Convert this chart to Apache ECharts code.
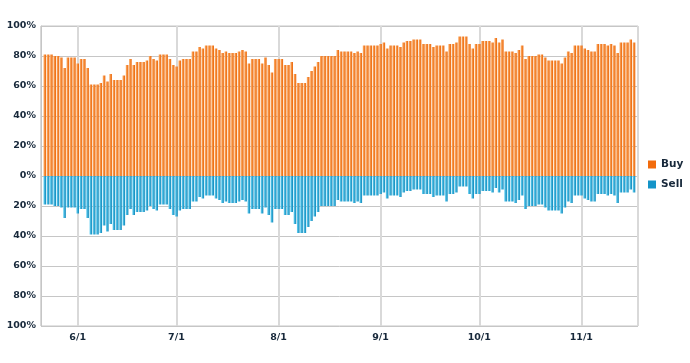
<!DOCTYPE html>
<html>
<head>
<meta charset="utf-8">
<script src="https://cdn.jsdelivr.net/npm/echarts@6/dist/echarts.min.js"></script>
<style>
html,body{margin:0;padding:0;background:#fff;}
#chart{width:690px;height:363px;}
</style>
</head>
<body>
<div id="chart"></div>
<script>
// first trading-day category and daily categories
const startDay = Date.UTC(2010, 4, 22);
const DAY = 86400000;

const buy = [
  81,81,81,80,80,79,72,79,79,79,
  75,78,78,72,61,61,61,62,67,63,
  68,64,64,64,67,74,78,74,76,76,
  76,77,80,78,77,81,81,81,78,74,
  73,77,78,78,78,83,83,86,85,87,
  87,87,85,84,82,83,82,82,82,83,
  84,83,75,78,78,78,75,79,74,69,
  78,78,78,74,74,76,68,62,62,62,
  66,70,73,76,80,80,80,80,80,84,
  83,83,83,83,82,83,82,87,87,87,
  87,87,88,89,85,87,87,87,86,89,
  90,90,91,91,91,88,88,88,86,87,
  87,87,83,88,88,89,93,93,93,88,
  85,88,88,90,90,90,89,92,89,91,
  83,83,83,82,84,87,78,80,80,80,
  81,81,79,77,77,77,77,75,79,83,
  82,87,87,87,85,84,83,83,88,88,
  88,87,88,87,82,89,89,89,91,89
];
const sell = [
  19,19,19,20,20,21,28,21,21,21,
  25,22,22,28,39,39,39,38,33,37,
  32,36,36,36,33,26,22,26,24,24,
  24,23,20,22,23,19,19,19,22,26,
  27,23,22,22,22,17,17,14,15,13,
  13,13,15,16,18,17,18,18,18,17,
  16,17,25,22,22,22,25,21,26,31,
  22,22,22,26,26,24,32,38,38,38,
  34,30,27,24,20,20,20,20,20,16,
  17,17,17,17,18,17,18,13,13,13,
  13,13,12,11,15,13,13,13,14,11,
  10,10,9,9,9,12,12,12,14,13,
  13,13,17,12,12,11,7,7,7,12,
  15,12,12,10,10,10,11,8,11,9,
  17,17,17,18,16,13,22,20,20,20,
  19,19,21,23,23,23,23,25,21,17,
  18,13,13,13,15,16,17,17,12,12,
  12,13,12,13,18,11,11,11,9,11
];
const seriesNames = ['Buy', 'Sell'];
const yTicks = [-100, -80, -60, -40, -20, 0, 20, 40, 60, 80, 100];

const days = buy.map((_, i) => startDay + i * DAY);

const chart = echarts.init(document.getElementById('chart'));
const FONT = '"DejaVu Sans", Verdana, sans-serif';
const TXT = '#17283a';

chart.setOption({
  animation: false,
  useUTC: true,
  grid: {
    left: 41, right: 52, top: 26, bottom: 37,
    show: true, borderColor: '#c6c6c6', borderWidth: 1, backgroundColor: 'transparent'
  },
  legend: {
    orient: 'vertical',
    left: 648, top: 159, padding: 0,
    itemWidth: 8, itemHeight: 8, itemGap: 9,
    icon: 'rect',
    textStyle: { fontFamily: FONT, fontWeight: 'bold', fontSize: 10.5, color: TXT },
    data: [
      { name: seriesNames[0], itemStyle: { color: '#f26b0c' } },
      { name: seriesNames[1], itemStyle: { color: '#1494c8' } }
    ]
  },
  xAxis: {
    type: 'time',
    min: startDay - 0.76 * DAY,
    max: startDay + (buy.length - 1 + 0.82) * DAY,
    minInterval: 28 * DAY,
    maxInterval: 31 * DAY,
    axisLine: { show: false },
    axisTick: { show: false },
    splitLine: { show: true, lineStyle: { color: '#d9d9d9', width: 2 } },
    axisLabel: {
      fontFamily: FONT, fontWeight: 'bold', fontSize: 9.5, color: TXT, margin: 7,
      showMinLabel: false, showMaxLabel: false,
      formatter: function (v) {
        const d = new Date(v);
        return (d.getUTCMonth() + 1) + '/' + d.getUTCDate();
      }
    }
  },
  yAxis: {
    type: 'value',
    min: yTicks[0], max: yTicks[yTicks.length - 1], interval: 20,
    axisLine: { show: true, lineStyle: { color: '#c6c6c6' } },
    axisTick: { show: false },
    splitLine: { show: true, lineStyle: { color: '#c6c6c6', width: 1 } },
    axisLabel: {
      fontFamily: FONT, fontWeight: 'bold', fontSize: 9.5, color: TXT, margin: 5,
      formatter: v => Math.abs(v) + '%'
    }
  },
  series: [
    {
      name: seriesNames[0], type: 'bar', barWidth: 2.6, barGap: '-100%',
      itemStyle: {
        color: new echarts.graphic.LinearGradient(0, 0, 1, 0, [
          { offset: 0, color: '#fdb06a' }, { offset: 1, color: '#eb6406' }
        ])
      },
      data: days.map((d, i) => [d, buy[i]])
    },
    {
      name: seriesNames[1], type: 'bar', barWidth: 2.6, barGap: '-100%',
      itemStyle: {
        color: new echarts.graphic.LinearGradient(0, 0, 1, 0, [
          { offset: 0, color: '#66d2f4' }, { offset: 1, color: '#0d86b9' }
        ])
      },
      data: days.map((d, i) => [d, -sell[i]])
    }
  ]
});
</script>
</body>
</html>
